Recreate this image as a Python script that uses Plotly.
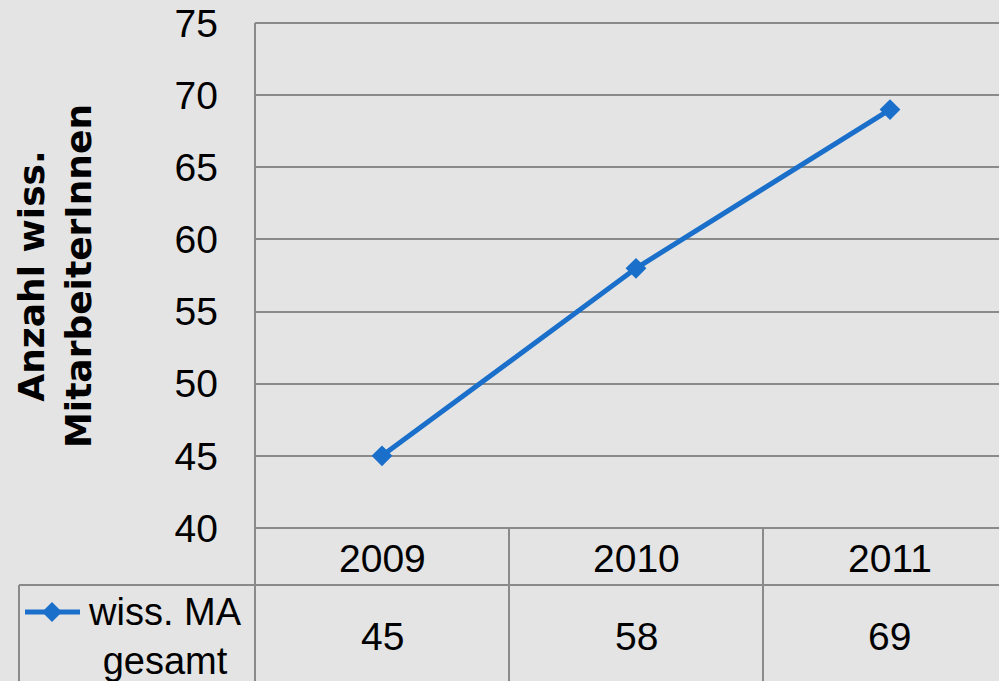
import plotly.graph_objects as go

years = ["2009", "2010", "2011"]
values = [45, 58, 69]
series_name = "wiss. MA<br>gesamt"
y_title = "Anzahl wiss.<br>MitarbeiterInnen"
y_ticks = [40, 45, 50, 55, 60, 65, 70, 75]

W, H = 999, 681
ML, MT, MB, MR = 255, 23, 153, 0
PW = W - ML - MR
PH = H - MT - MB
CAT = 254  # px per category
x_lo = -0.5
x_hi = x_lo + PW / CAT

LINE = "#1a6fca"
GRID = "#8a8a8a"
BG = "#e4e4e4"
FONT = "Liberation Sans, Arial, sans-serif"


def px(xp):
    return (xp - ML) / PW


def py(yp):
    return (MT + PH - yp) / PH


def catx(c):
    return (c - x_lo) / (x_hi - x_lo)


fig = go.Figure()
fig.add_trace(go.Scatter(
    x=years, y=values, mode="lines+markers",
    line=dict(color=LINE, width=5),
    marker=dict(symbol="diamond", size=16, color=LINE),
    showlegend=False, cliponaxis=False,
))

shapes = []
gl = dict(color=GRID, width=2)
bottom = py(H + 10)
shapes.append(dict(type="line", xref="paper", yref="paper", x0=0, x1=0, y0=1, y1=bottom, line=gl))
shapes.append(dict(type="line", xref="paper", yref="paper", x0=0, x1=1, y0=0, y1=0, line=gl))
shapes.append(dict(type="line", xref="paper", yref="paper", x0=0, x1=1, y0=1, y1=1, line=gl))
for i in range(1, len(years)):
    xc = catx(i - 0.5)
    shapes.append(dict(type="line", xref="paper", yref="paper", x0=xc, x1=xc, y0=0, y1=bottom, line=gl))
shapes.append(dict(type="line", xref="paper", yref="paper", x0=px(19), x1=1, y0=py(585), y1=py(585), line=gl))
shapes.append(dict(type="line", xref="paper", yref="paper", x0=px(19), x1=px(19), y0=py(585), y1=bottom, line=gl))
shapes.append(dict(type="line", xref="paper", yref="paper", x0=px(25), x1=px(80), y0=py(612), y1=py(612),
                   line=dict(color=LINE, width=5)))
cx, cy, r = 52, 612, 10
path = "M {} {} L {} {} L {} {} L {} {} Z".format(
    px(cx - r), py(cy), px(cx), py(cy - r), px(cx + r), py(cy), px(cx), py(cy + r))
shapes.append(dict(type="path", xref="paper", yref="paper", path=path,
                   fillcolor=LINE, line=dict(color=LINE, width=0)))

annotations = []
tf = dict(family=FONT, size=39, color="black")
for i, (yr, v) in enumerate(zip(years, values)):
    annotations.append(dict(x=catx(i), y=py(558), xref="paper", yref="paper", text=yr,
                            showarrow=False, font=tf, xanchor="center", yanchor="middle"))
    annotations.append(dict(x=catx(i), y=py(636), xref="paper", yref="paper", text=str(v),
                            showarrow=False, font=tf, xanchor="center", yanchor="middle"))
annotations.append(dict(x=px(165), y=py(636), xref="paper", yref="paper", text=series_name,
                        showarrow=False, font=dict(family=FONT, size=38, color="black"),
                        xanchor="center", yanchor="middle", align="center"))
annotations.append(dict(x=px(55), y=py(276), xref="paper", yref="paper", text="<b>" + y_title + "</b>",
                        showarrow=False, textangle=-90, xanchor="center", yanchor="middle", align="center",
                        font=dict(family="DejaVu Sans, sans-serif", size=36, color="black")))

fig.update_layout(
    width=W, height=H,
    margin=dict(l=ML, r=MR, t=MT, b=MB, pad=0),
    paper_bgcolor=BG, plot_bgcolor=BG,
    shapes=shapes, annotations=annotations,
    xaxis=dict(type="category", range=[x_lo, x_hi], showticklabels=False, showgrid=False,
               zeroline=False, showline=False, ticks=""),
    yaxis=dict(range=[y_ticks[0], y_ticks[-1]], tickvals=y_ticks, showgrid=True, gridcolor=GRID, gridwidth=2,
               zeroline=False, showline=False, ticks="", ticklabelstandoff=36,
               tickfont=dict(family=FONT, size=39, color="black")),
)

fig.write_html("out.html", config={"displayModeBar": False},
               post_script="document.body.style.margin='0';document.body.style.overflow='hidden';")
